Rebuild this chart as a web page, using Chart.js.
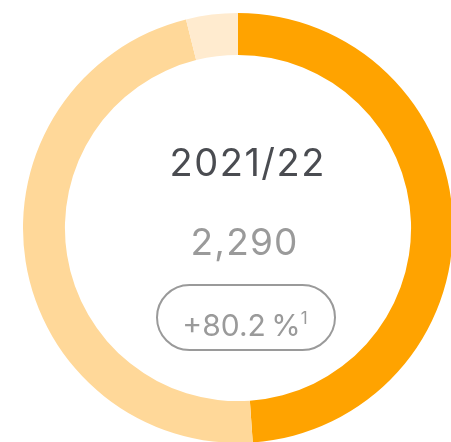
<!DOCTYPE html>
<html lang="en">
  <head>
    <meta charset="UTF-8" />
    <title>Donut</title>
    <style>
      html,
      body {
        margin: 0;
        padding: 0;
        background: #fff;
        overflow: hidden;
        width: 451px;
        height: 442px;
      }

      .chart-container {
        position: absolute;
        left: 23px;
        top: 13px;
        width: 430px;
        height: 430px;
      }
    </style>
  </head>
  <body>
    <div class="chart-container">
      <canvas id="donut" width="430" height="430"></canvas>
    </div>

    <script src="https://cdn.jsdelivr.net/npm/chart.js"></script>

    <script>
      const labels = ["Segment A", "Segment B", "Segment C"];
      const values = [1120, 1081, 89];
      const colors = ["#ffa300", "#ffd899", "#ffebcf"];

      const title = "2021/22";
      const total = "2,290";
      const change = "+80.2\u2009%";
      const footnote = "1";

      function centered(ctx, text, cx, y, spacing) {
        ctx.letterSpacing = spacing + "px";
        const w = ctx.measureText(text).width - spacing;
        ctx.textAlign = "left";
        ctx.fillText(text, cx - w / 2, y);
      }

      // centre texts and the pill, drawn after the arcs
      const centerText = {
        id: "centerText",
        afterDraw(chart) {
          const ctx = chart.ctx;
          const cx = 222;
          ctx.save();
          ctx.textBaseline = "alphabetic";

          ctx.fillStyle = "#4a4c51";
          ctx.font = "38px Inter";
          centered(ctx, title, cx + 2, 163, 1.5);

          ctx.fillStyle = "#9a9a9a";
          ctx.font = "37px Inter";
          centered(ctx, total, cx - 1, 242, 1.2);

          // pill
          const x = 134, y = 272, w = 178, h = 65, r = h / 2;
          ctx.strokeStyle = "#9a9a9a";
          ctx.lineWidth = 2;
          ctx.beginPath();
          ctx.roundRect(x, y, w, h, r);
          ctx.stroke();

          ctx.letterSpacing = "0px";
          ctx.font = "30px Inter";
          const mainW = ctx.measureText(change).width;
          ctx.font = "17px Inter";
          const supW = ctx.measureText(footnote).width;
          const startX = cx - (mainW + supW) / 2;
          ctx.textAlign = "left";
          ctx.font = "30px Inter";
          ctx.fillText(change, startX, 323);
          ctx.font = "17px Inter";
          ctx.fillText(footnote, startX + mainW, 311);
          ctx.restore();
        },
      };

      new Chart(document.getElementById("donut"), {
        type: "doughnut",
        data: {
          labels,
          datasets: [
            {
              data: values,
              backgroundColor: colors,
              borderWidth: 0,
              hoverOffset: 0,
            },
          ],
        },
        options: {
          responsive: false,
          animation: false,
          cutout: "80.5%",
          plugins: {
            legend: { display: false },
            tooltip: { enabled: false },
          },
        },
        plugins: [centerText],
      });
    </script>
  </body>
</html>
